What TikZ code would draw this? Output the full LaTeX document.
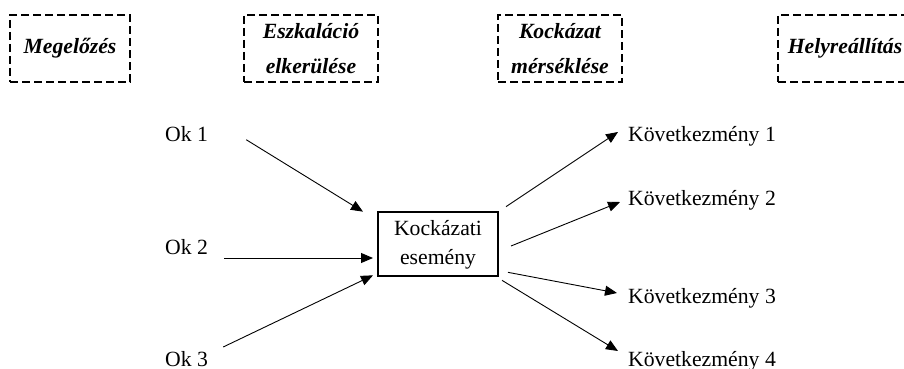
\documentclass[tikz,border=0pt]{standalone}
\usepackage{fontspec}
\setmainfont{Liberation Serif}
\usetikzlibrary{arrows.meta}

\begin{document}
\begin{tikzpicture}[x=1pt,y=-1pt,font=\fontsize{21.7}{29}\selectfont,
	phase/.style={draw,line width=2.7pt,dash pattern=on 8pt off 4pt,minimum height=67pt,
		inner sep=0pt,outer sep=0pt,align=center,font=\fontsize{21.7}{35}\selectfont\bfseries\itshape},
	plain/.style={anchor=base west,inner sep=0pt},
	arr/.style={-{Triangle[length=12pt,width=10pt]},line width=0.9pt}]
	\clip (0,0) rectangle (904,369);
	% fazisok
	\node[phase,minimum width=120pt] (megelozes) at (70,48.5) {Megelőzés};
	\node[phase,minimum width=134pt] (eszkalacio) at (311,48.5) {Eszkaláció\\elkerülése};
	\node[phase,minimum width=124pt] (mersekles) at (560,48.5) {Kockázat\\mérséklése};
	\node[phase,minimum width=134pt] (helyre) at (845,48.5) {Helyreállítás};
	% esemeny
	\node[draw,line width=2pt,minimum width=120pt,minimum height=64pt,outer sep=0pt] (risk) at (438,244)
		{\raisebox{-2pt}{\begin{tabular}{@{}c@{}}Kockázati\\esemény\end{tabular}}};
	\foreach \i/\y in {1/141.7,2/254,3/366}
	\node[plain] (ok\i) at (165,\y) {Ok \i};
	\foreach \i/\y in {1/141,2/205,3/303,4/366}
	\node[plain] (kov\i) at (628,\y) {Következmény \i};
	% okok
	\draw[arr] ([shift={(38,-2)}]ok1.base east) -- ([shift={(-15,0)}]risk.north west);
	\draw[arr] ([shift={(16,4)}]ok2.base east) -- ([shift={(-5,14)}]risk.west);
	\draw[arr] ([shift={(15,-19)}]ok3.base east) -- ([shift={(-5,-1)}]risk.south west);
	% kovetkezmenyek
	\draw[arr] ([shift={(8,-5)}]risk.north east) -- ([shift={(-10,-9)}]kov1.base west);
	\draw[arr] ([shift={(13,2)}]risk.east) -- ([shift={(-8,-3)}]kov2.base west);
	\draw[arr] ([shift={(10,-4)}]risk.south east) -- ([shift={(-11,-10)}]kov3.base west);
	\draw[arr] ([shift={(4,4)}]risk.south east) -- ([shift={(-10,-15)}]kov4.base west);
\end{tikzpicture}
\end{document}
